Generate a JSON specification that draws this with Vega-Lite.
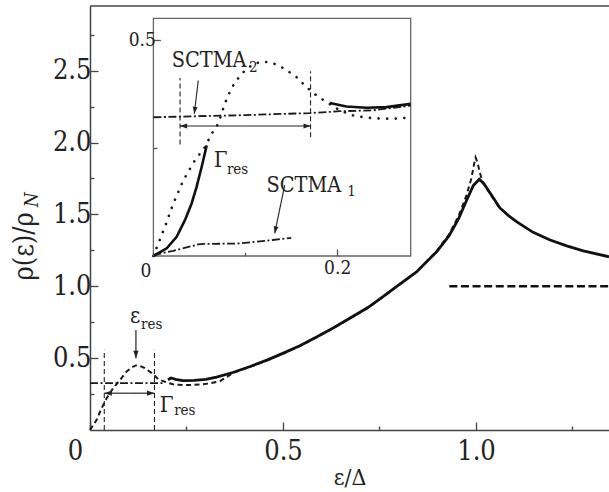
{
  "$schema": "https://vega.github.io/schema/vega-lite/v6.json",
  "width": 519,
  "height": 424,
  "autosize": {"type": "none"},
  "padding": {"left": 90, "top": 6, "right": 0, "bottom": 62},
  "background": "white",
  "config": {
    "view": {"stroke": null},
    "font": "DejaVu Serif Condensed, DejaVu Serif",
    "text": {"font": "DejaVu Serif Condensed, DejaVu Serif"},
    "axis": {
      "grid": false,
      "labelFlush": false,
      "domainColor": "#444",
      "domainWidth": 1.5,
      "tickColor": "#444",
      "tickWidth": 1.3,
      "labelFont": "DejaVu Serif Condensed, DejaVu Serif",
      "labelColor": "#222",
      "titleFont": "DejaVu Serif Condensed, DejaVu Serif",
      "titleColor": "#222",
      "titleFontWeight": "normal"
    }
  },
  "datasets": {
    "mainSolid": [
      {"x": 0.202, "y": 0.35}, {"x": 0.21, "y": 0.362}, {"x": 0.222, "y": 0.352}, {"x": 0.24, "y": 0.344},
      {"x": 0.27, "y": 0.345}, {"x": 0.3, "y": 0.352}, {"x": 0.328, "y": 0.368}, {"x": 0.37, "y": 0.4},
      {"x": 0.415, "y": 0.442}, {"x": 0.46, "y": 0.488}, {"x": 0.501, "y": 0.535}, {"x": 0.545, "y": 0.588},
      {"x": 0.587, "y": 0.647}, {"x": 0.63, "y": 0.71}, {"x": 0.674, "y": 0.779}, {"x": 0.72, "y": 0.852},
      {"x": 0.76, "y": 0.93}, {"x": 0.8, "y": 1.01}, {"x": 0.846, "y": 1.1}, {"x": 0.87, "y": 1.165},
      {"x": 0.898, "y": 1.24}, {"x": 0.93, "y": 1.35}, {"x": 0.955, "y": 1.47}, {"x": 0.976, "y": 1.6},
      {"x": 0.993, "y": 1.7}, {"x": 1.0086, "y": 1.745}, {"x": 1.02, "y": 1.715}, {"x": 1.04, "y": 1.635},
      {"x": 1.062, "y": 1.545}, {"x": 1.085, "y": 1.49}, {"x": 1.105, "y": 1.45}, {"x": 1.148, "y": 1.375},
      {"x": 1.192, "y": 1.322}, {"x": 1.235, "y": 1.281}, {"x": 1.278, "y": 1.246}, {"x": 1.3446, "y": 1.205}
    ],
    "mainDashed": [
      {"x": 0, "y": 0}, {"x": 0.017, "y": 0.07}, {"x": 0.03, "y": 0.151}, {"x": 0.043, "y": 0.221},
      {"x": 0.06, "y": 0.291}, {"x": 0.078, "y": 0.349}, {"x": 0.095, "y": 0.407}, {"x": 0.108, "y": 0.435},
      {"x": 0.119, "y": 0.449}, {"x": 0.13, "y": 0.445}, {"x": 0.142, "y": 0.43}, {"x": 0.16, "y": 0.396},
      {"x": 0.177, "y": 0.354}, {"x": 0.199, "y": 0.33}, {"x": 0.215, "y": 0.318}, {"x": 0.233, "y": 0.314},
      {"x": 0.26, "y": 0.313}, {"x": 0.285, "y": 0.316}, {"x": 0.31, "y": 0.324}, {"x": 0.337, "y": 0.34},
      {"x": 0.37, "y": 0.396}, {"x": 0.415, "y": 0.44}, {"x": 0.46, "y": 0.486}, {"x": 0.501, "y": 0.533},
      {"x": 0.545, "y": 0.586}, {"x": 0.587, "y": 0.645}, {"x": 0.63, "y": 0.708}, {"x": 0.674, "y": 0.777},
      {"x": 0.72, "y": 0.85}, {"x": 0.76, "y": 0.928}, {"x": 0.8, "y": 1.008}, {"x": 0.846, "y": 1.1},
      {"x": 0.87, "y": 1.165}, {"x": 0.898, "y": 1.245}, {"x": 0.93, "y": 1.36}, {"x": 0.955, "y": 1.49},
      {"x": 0.975, "y": 1.63}, {"x": 0.988, "y": 1.75}, {"x": 0.995, "y": 1.85}, {"x": 0.999, "y": 1.896},
      {"x": 1.004, "y": 1.86}, {"x": 1.01, "y": 1.79}, {"x": 1.018, "y": 1.72}, {"x": 1.03, "y": 1.67},
      {"x": 1.045, "y": 1.61}, {"x": 1.062, "y": 1.54}
    ],
    "mainDashDot": [{"x": 0, "y": 0.326}, {"x": 0.19, "y": 0.326}],
    "normalState": [{"x": 0.931, "y": 1}, {"x": 1.3446, "y": 1}],
    "mainMarkers": [{"x": 0.037, "y": 0, "y2": 0.558}, {"x": 0.167, "y": 0, "y2": 0.558}],
    "mainArrows": [
      {"x": 0.119, "y": 0.696, "xe": 0.119, "ye": 0.5, "angle": 90},
      {"x": 0.102, "y": 0.256, "xe": 0.037, "ye": 0.256, "angle": 180},
      {"x": 0.102, "y": 0.256, "xe": 0.167, "ye": 0.256, "angle": 0}
    ],
    "mainLabels": [{"t": "ε", "x": 0.1036, "y": 0.745}, {"t": "Γ", "x": 0.181, "y": 0.127}],
    "mainSubs": [{"t": "res", "x": 0.132, "y": 0.7}, {"t": "res", "x": 0.218, "y": 0.104}],
    "yTitle": [{"t": "ρ(ε)/ρ", "x": -0.148, "y": 1.04}],
    "yTitleSub": [{"t": "N", "x": -0.135, "y": 1.55}],
    "insetDotted": [
      {"x": 0, "y": 0}, {"x": 0.0126, "y": 0.0677}, {"x": 0.0217, "y": 0.1215}, {"x": 0.0325, "y": 0.175},
      {"x": 0.0452, "y": 0.2215}, {"x": 0.0561, "y": 0.252}, {"x": 0.0634, "y": 0.283}, {"x": 0.0706, "y": 0.306},
      {"x": 0.0753, "y": 0.337}, {"x": 0.0804, "y": 0.3676}, {"x": 0.0887, "y": 0.402}, {"x": 0.0977, "y": 0.425},
      {"x": 0.1086, "y": 0.4445}, {"x": 0.1195, "y": 0.45}, {"x": 0.1303, "y": 0.446}, {"x": 0.143, "y": 0.433},
      {"x": 0.1558, "y": 0.4137}, {"x": 0.1666, "y": 0.3906}, {"x": 0.1775, "y": 0.3715}, {"x": 0.1884, "y": 0.356},
      {"x": 0.2028, "y": 0.337}, {"x": 0.2173, "y": 0.3253}, {"x": 0.2318, "y": 0.32}, {"x": 0.25, "y": 0.3177},
      {"x": 0.268, "y": 0.318}, {"x": 0.28, "y": 0.3214}
    ],
    "insetSolid": [
      {"seg": "a", "x": 0, "y": 0}, {"seg": "a", "x": 0.0145, "y": 0.0178}, {"seg": "a", "x": 0.0253, "y": 0.0445},
      {"seg": "a", "x": 0.0343, "y": 0.083}, {"seg": "a", "x": 0.0416, "y": 0.1215}, {"seg": "a", "x": 0.047, "y": 0.16},
      {"seg": "a", "x": 0.0525, "y": 0.206}, {"seg": "a", "x": 0.058, "y": 0.256},
      {"seg": "b", "x": 0.192, "y": 0.354}, {"seg": "b", "x": 0.21, "y": 0.346}, {"seg": "b", "x": 0.232, "y": 0.343},
      {"seg": "b", "x": 0.2536, "y": 0.3445}, {"seg": "b", "x": 0.28, "y": 0.352}
    ],
    "insetDashDot": [
      {"seg": "upper", "x": 0, "y": 0.321}, {"seg": "upper", "x": 0.1, "y": 0.326}, {"seg": "upper", "x": 0.17, "y": 0.3307},
      {"seg": "upper", "x": 0.203, "y": 0.335}, {"seg": "upper", "x": 0.239, "y": 0.337}, {"seg": "upper", "x": 0.28, "y": 0.348},
      {"seg": "lower", "x": 0, "y": 0.002}, {"seg": "lower", "x": 0.0216, "y": 0.012}, {"seg": "lower", "x": 0.0507, "y": 0.0277},
      {"seg": "lower", "x": 0.094, "y": 0.029}, {"seg": "lower", "x": 0.13, "y": 0.037}, {"seg": "lower", "x": 0.15, "y": 0.042}
    ],
    "insetMarkers": [{"x": 0.029, "y": 0.258, "y2": 0.412}, {"x": 0.171, "y": 0.275, "y2": 0.4276}],
    "insetArrows": [
      {"x": 0.0488, "y": 0.406, "xe": 0.0445, "ye": 0.329, "angle": 97},
      {"x": 0.1429, "y": 0.1638, "xe": 0.132, "ye": 0.0524, "angle": 102},
      {"x": 0.1, "y": 0.3007, "xe": 0.029, "ye": 0.3007, "angle": 180},
      {"x": 0.1, "y": 0.3007, "xe": 0.171, "ye": 0.3007, "angle": 0}
    ],
    "insetLabels": [
      {"t": "SCTMA", "x": 0.0199, "y": 0.437},
      {"t": "Γ", "x": 0.0659, "y": 0.206},
      {"t": "SCTMA", "x": 0.123, "y": 0.148}
    ],
    "insetSubs": [
      {"t": "2", "x": 0.104, "y": 0.425},
      {"t": "res", "x": 0.08, "y": 0.19},
      {"t": "1", "x": 0.211, "y": 0.138}
    ]
  },
  "layer": [
    {
      "layer": [
        {
          "data": {"name": "mainMarkers"},
          "mark": {"type": "rule", "color": "#222", "strokeWidth": 1.1, "strokeDash": [5, 3]},
          "encoding": {
            "x": {
              "field": "x", "type": "quantitative",
              "scale": {"domain": [0, 1.3446], "nice": false, "zero": false},
              "axis": {
                "title": "ε/Δ",
                "titleFontSize": 23,
                "titlePadding": 2,
                "values": [0, 0.25, 0.5, 0.75, 1, 1.25],
                "labelExpr": "datum.value === 0 ? '0' : (datum.value % 0.5 === 0 ? format(datum.value, '.1f') : '')",
                "labelFontSize": 27,
                "labelPadding": 16,
                "labelOffset": {"condition": {"test": "datum.value === 0", "value": -15}, "value": 0},
                "tickSize": {"condition": {"test": "datum.value % 0.5 === 0", "value": -8}, "value": -4}
              }
            },
            "y": {
              "field": "y", "type": "quantitative",
              "scale": {"domain": [0, 2.95], "nice": false, "zero": false},
              "axis": {
                "title": null,
                "values": [0.25, 0.5, 0.75, 1, 1.25, 1.5, 1.75, 2, 2.25, 2.5, 2.75],
                "labelExpr": "datum.value % 0.5 === 0 ? format(datum.value, '.1f') : ''",
                "labelFontSize": 27,
                "labelPadding": 7,
                "tickSize": {"condition": {"test": "datum.value % 0.5 === 0", "value": -8}, "value": -4}
              }
            },
            "y2": {"field": "y2"}
          }
        },
        {
          "data": {"name": "mainDashDot"},
          "mark": {"type": "line", "color": "#1a1a1a", "strokeWidth": 1.8, "strokeDash": [8, 2.5, 2, 2.5]},
          "encoding": {"x": {"field": "x", "type": "quantitative"}, "y": {"field": "y", "type": "quantitative"}}
        },
        {
          "data": {"name": "mainDashed"},
          "mark": {"type": "line", "color": "#1a1a1a", "strokeWidth": 2, "strokeDash": [5, 3.5]},
          "encoding": {"x": {"field": "x", "type": "quantitative"}, "y": {"field": "y", "type": "quantitative"}}
        },
        {
          "data": {"name": "mainSolid"},
          "mark": {"type": "line", "color": "#111", "strokeWidth": 2.8},
          "encoding": {"x": {"field": "x", "type": "quantitative"}, "y": {"field": "y", "type": "quantitative"}}
        },
        {
          "data": {"name": "normalState"},
          "mark": {"type": "line", "color": "#111", "strokeWidth": 2.3, "strokeDash": [8, 3.6]},
          "encoding": {"x": {"field": "x", "type": "quantitative"}, "y": {"field": "y", "type": "quantitative"}}
        },
        {
          "data": {"name": "mainArrows"},
          "mark": {"type": "rule", "color": "#222", "strokeWidth": 1.2},
          "encoding": {
            "x": {"field": "x", "type": "quantitative"}, "y": {"field": "y", "type": "quantitative"},
            "x2": {"field": "xe"}, "y2": {"field": "ye"}
          }
        },
        {
          "data": {"name": "mainArrows"},
          "mark": {"type": "point", "shape": "M0,0L-1,-0.35L-1,0.35Z", "filled": true, "color": "#222", "size": 225, "opacity": 1},
          "encoding": {
            "x": {"field": "xe", "type": "quantitative"}, "y": {"field": "ye", "type": "quantitative"},
            "angle": {"field": "angle", "type": "quantitative", "scale": null}
          }
        },
        {
          "data": {"name": "mainLabels"},
          "mark": {"type": "text", "fontSize": 22, "align": "left", "baseline": "alphabetic", "color": "#222"},
          "encoding": {"x": {"field": "x", "type": "quantitative"}, "y": {"field": "y", "type": "quantitative"}, "text": {"field": "t"}}
        },
        {
          "data": {"name": "mainSubs"},
          "mark": {"type": "text", "fontSize": 15, "align": "left", "baseline": "alphabetic", "color": "#222"},
          "encoding": {"x": {"field": "x", "type": "quantitative"}, "y": {"field": "y", "type": "quantitative"}, "text": {"field": "t"}}
        },
        {
          "data": {"name": "yTitle"},
          "mark": {"type": "text", "fontSize": 27, "align": "left", "baseline": "alphabetic", "angle": 270, "color": "#222"},
          "encoding": {"x": {"field": "x", "type": "quantitative"}, "y": {"field": "y", "type": "quantitative"}, "text": {"field": "t"}}
        },
        {
          "data": {"name": "yTitleSub"},
          "mark": {"type": "text", "fontSize": 19, "fontStyle": "italic", "align": "left", "baseline": "alphabetic", "angle": 270, "color": "#222"},
          "encoding": {"x": {"field": "x", "type": "quantitative"}, "y": {"field": "y", "type": "quantitative"}, "text": {"field": "t"}}
        },
        {
          "data": {"values": [{}]},
          "mark": {"type": "rule", "color": "#444", "strokeWidth": 1.5},
          "encoding": {"y": {"datum": 2.95, "type": "quantitative"}}
        }
      ]
    },
    {
      "layer": [
        {
          "data": {"values": [{}]},
          "mark": {"type": "rect", "filled": false, "stroke": "#666", "strokeWidth": 1.3},
          "encoding": {
            "x": {
              "datum": 0, "type": "quantitative",
              "scale": {"domain": [0, 0.28], "range": [63.4, 320.7], "nice": false, "zero": false},
              "axis": {
                "orient": "bottom",
                "offset": -174,
                "title": null,
                "domain": false,
                "zindex": 1,
                "values": [0, 0.1, 0.2],
                "labelExpr": "datum.value === 0 ? '0' : (datum.value === 0.2 ? '0.2' : '')",
                "labelFontSize": 19,
                "labelPadding": 9,
                "labelOffset": {"condition": {"test": "datum.value === 0", "value": -8}, "value": 0},
                "tickColor": "#555",
                "tickSize": {"condition": {"test": "datum.value === 0.2", "value": -7}, "value": -3.5}
              }
            },
            "x2": {"datum": 0.28},
            "y": {
              "datum": 0, "type": "quantitative",
              "scale": {"domain": [0, 0.55], "range": [250, 12.3], "nice": false, "zero": false},
              "axis": {
                "orient": "left",
                "offset": -63.4,
                "title": null,
                "domain": false,
                "zindex": 1,
                "values": [0.25, 0.5],
                "labelExpr": "datum.value === 0.5 ? '0.5' : ''",
                "labelFontSize": 19,
                "labelPadding": 5,
                "tickColor": "#555",
                "tickSize": {"condition": {"test": "datum.value === 0.5", "value": -7}, "value": -3.5}
              }
            },
            "y2": {"datum": 0.55}
          }
        },
        {
          "data": {"name": "insetMarkers"},
          "mark": {"type": "rule", "color": "#222", "strokeWidth": 1.1, "strokeDash": [5, 3]},
          "encoding": {"x": {"field": "x", "type": "quantitative"}, "y": {"field": "y", "type": "quantitative"}, "y2": {"field": "y2"}}
        },
        {
          "data": {"name": "insetDashDot"},
          "mark": {"type": "line", "color": "#1a1a1a", "strokeWidth": 1.8, "strokeDash": [8, 2.5, 2, 2.5]},
          "encoding": {"x": {"field": "x", "type": "quantitative"}, "y": {"field": "y", "type": "quantitative"}, "detail": {"field": "seg"}}
        },
        {
          "data": {"name": "insetDotted"},
          "mark": {"type": "line", "color": "#1a1a1a", "strokeWidth": 2.6, "strokeDash": [0.1, 8.5], "strokeCap": "round"},
          "encoding": {"x": {"field": "x", "type": "quantitative"}, "y": {"field": "y", "type": "quantitative"}}
        },
        {
          "data": {"name": "insetSolid"},
          "mark": {"type": "line", "color": "#111", "strokeWidth": 2.6},
          "encoding": {"x": {"field": "x", "type": "quantitative"}, "y": {"field": "y", "type": "quantitative"}, "detail": {"field": "seg"}}
        },
        {
          "data": {"name": "insetArrows"},
          "mark": {"type": "rule", "color": "#222", "strokeWidth": 1.1},
          "encoding": {
            "x": {"field": "x", "type": "quantitative"}, "y": {"field": "y", "type": "quantitative"},
            "x2": {"field": "xe"}, "y2": {"field": "ye"}
          }
        },
        {
          "data": {"name": "insetArrows"},
          "mark": {"type": "point", "shape": "M0,0L-1,-0.35L-1,0.35Z", "filled": true, "color": "#222", "size": 196, "opacity": 1},
          "encoding": {
            "x": {"field": "xe", "type": "quantitative"}, "y": {"field": "ye", "type": "quantitative"},
            "angle": {"field": "angle", "type": "quantitative", "scale": null}
          }
        },
        {
          "data": {"name": "insetLabels"},
          "mark": {"type": "text", "fontSize": 21.5, "align": "left", "baseline": "alphabetic", "color": "#222"},
          "encoding": {"x": {"field": "x", "type": "quantitative"}, "y": {"field": "y", "type": "quantitative"}, "text": {"field": "t"}}
        },
        {
          "data": {"name": "insetSubs"},
          "mark": {"type": "text", "fontSize": 15, "align": "left", "baseline": "alphabetic", "color": "#222"},
          "encoding": {"x": {"field": "x", "type": "quantitative"}, "y": {"field": "y", "type": "quantitative"}, "text": {"field": "t"}}
        }
      ]
    }
  ],
  "resolve": {
    "scale": {"x": "independent", "y": "independent"},
    "axis": {"x": "independent", "y": "independent"}
  }
}
